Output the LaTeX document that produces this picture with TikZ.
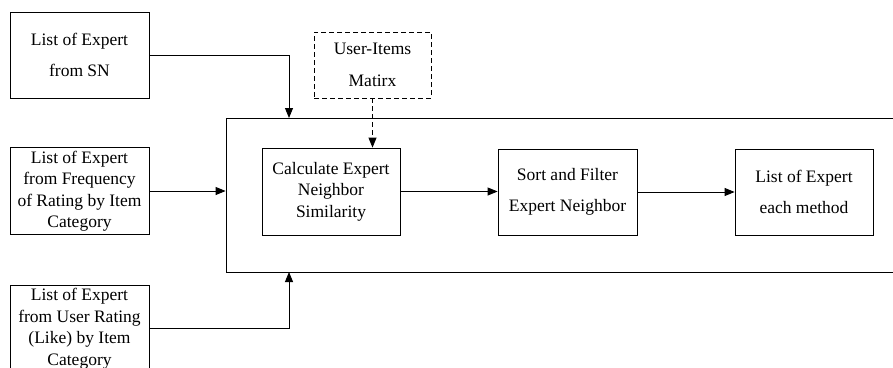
\documentclass[tikz,border=0pt]{standalone}
\usepackage{fontspec}
\setmainfont{Liberation Serif}
\usetikzlibrary{arrows.meta}
\begin{document}
\begin{tikzpicture}[x=1pt,y=-1pt,
  box/.style={draw, line width=0.8pt, inner sep=0pt, align=center},
  two/.style={font=\fontsize{17.5}{31.5}\selectfont},
  many/.style={font=\fontsize{17.5}{21.5}\selectfont},
  arr/.style={line width=0.9pt, -{Triangle[length=10pt,width=8pt]}},
  darr/.style={arr, dash pattern=on 5pt off 3pt}]
\useasboundingbox (0,0) rectangle (893,367);
\clip (0,0) rectangle (893,367);
\node[box, minimum width=734pt, minimum height=154pt] (big) at (593,195) {};
\node[box, two, minimum width=139pt, minimum height=86pt] (sn) at (79.5,55) {List of Expert\\from SN};
\node[box, many, minimum width=139pt, minimum height=87pt] (freq) at (79.5,191) {List of Expert\\from Frequency\\of Rating by Item\\Category};
\node[box, many, minimum width=139pt, minimum height=87pt] (ur) at (79.5,328.5) {List of Expert\\from User Rating\\(Like) by Item\\Category};
\node[box, two, dash pattern=on 5pt off 3pt, minimum width=117pt, minimum height=66pt] (uim) at (372.5,65) {User-Items\\Matirx};
\node[box, many, minimum width=138pt, minimum height=87pt] (calc) at (331,191.5) {Calculate Expert\\Neighbor\\Similarity};
\node[box, two, minimum width=139pt, minimum height=86pt] (sort) at (567.5,192) {Sort and Filter\\Expert Neighbor};
\node[box, two, minimum width=138pt, minimum height=86pt] (list) at (804,192) {List of Expert\\each method};
\coordinate (j1) at (289,118);
\coordinate (j2) at (289,272);
\draw[arr] (sn.east) -| (j1);
\draw[arr] (freq.east) -- (freq.east -| big.west);
\draw[arr] (ur.east) -| (j2);
\draw[darr] (uim.south) -- (uim.south |- calc.north);
\draw[arr] (calc.east) -- (calc.east -| sort.west);
\draw[arr] (sort.east) -- (sort.east -| list.west);
\end{tikzpicture}
\end{document}
